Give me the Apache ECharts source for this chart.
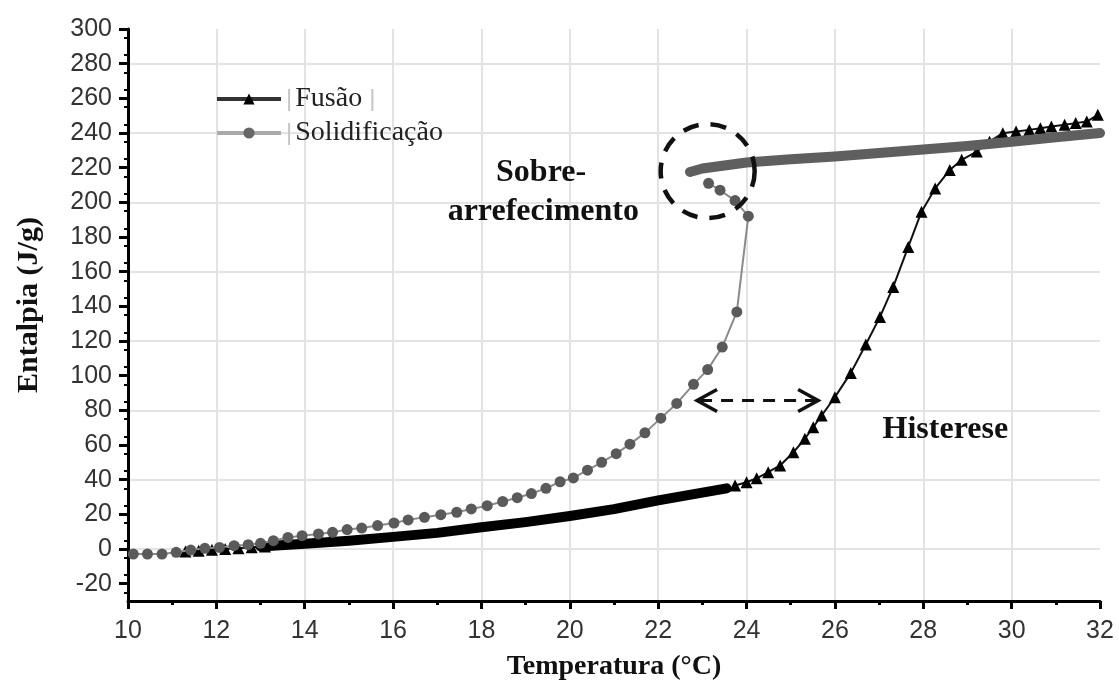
<!DOCTYPE html>
<html><head><meta charset="utf-8">
<script src="https://cdn.jsdelivr.net/npm/echarts@6/dist/echarts.min.js"></script>
<style>html,body{margin:0;padding:0;background:#fff}#c{width:1119px;height:690px}</style>
</head><body><div id="c"></div>
<script>
// ---------------- data ----------------
const xTickLabels = [10, 12, 14, 16, 18, 20, 22, 24, 26, 28, 30, 32];
const yTickLabels = [-20, 0, 20, 40, 60, 80, 100, 120, 140, 160, 180, 200, 220, 240, 260, 280, 300];

// Fusão (melting) – discrete triangles, early part
const fusionEarlyX = [11.3, 11.6, 11.9, 12.2, 12.5, 12.8, 13.1];
const fusionEarlyY = [-1.5, -1, -0.5, 0, 0.5, 1, 1.5];
// Fusão – dense part (drawn as a thick band)
const fusionBandX = [13.0, 14, 15, 16, 17, 18, 19, 20, 21, 22, 23, 23.55];
const fusionBandY = [1.5, 3, 4.8, 7, 9.3, 12.5, 15.5, 19, 23, 28, 32.5, 35];
// Fusão – discrete triangles, melting peak
const fusionX = [23.74, 24.0, 24.23, 24.49, 24.76, 25.06, 25.32, 25.51, 25.70, 26.0, 26.36, 26.70, 27.02, 27.32, 27.66, 27.96, 28.27, 28.6, 28.87, 29.21, 29.5, 29.8, 30.1, 30.4, 30.65, 30.9, 31.2, 31.45, 31.7, 31.95];
const fusionY = [36.6, 38.5, 40.8, 44.3, 48.2, 55.8, 63.6, 70.3, 77, 87.6, 101.6, 118, 133.9, 151.2, 174.3, 194.6, 208, 218.7, 224.5, 229.3, 235, 239.9, 240.8, 241.8, 242.8, 243.7, 244.7, 245.7, 246.6, 250.5];

// Solidificação – liquid cooling part (dense, drawn as a thick band)
const solidLiquidX = [32, 31, 30, 29, 28, 27, 26, 25, 24, 23, 22.72];
const solidLiquidY = [240, 237.5, 235, 232.5, 230.5, 228.5, 226.5, 224.8, 223, 219.5, 217.5];
// Solidificação – supercooling and solidification points
const solidX = [23.14, 23.40, 23.74, 24.04, 23.78, 23.45, 23.12, 22.80, 22.42, 22.06, 21.70, 21.36, 21.05, 20.72, 20.40, 20.08, 19.78, 19.46, 19.13, 18.81, 18.48, 18.13, 17.77, 17.44, 17.08, 16.71, 16.34, 16.02, 15.65, 15.29, 14.96, 14.63, 14.31, 13.94, 13.62, 13.29, 13.0, 12.72, 12.40, 12.07, 11.74, 11.42, 11.09, 10.77, 10.44, 10.12];
const solidY = [211, 207, 201, 192, 136.8, 116.5, 103.5, 95, 84, 75.5, 67, 60.5, 55, 50, 45.5, 41, 38.8, 35, 32, 29.6, 27.4, 25, 23.1, 21.2, 19.8, 18.3, 16.8, 15, 13.5, 12.1, 11.2, 9.6, 8.7, 7.7, 6.7, 4.8, 3.3, 2.5, 1.9, 0.9, 0.4, -0.6, -1.9, -2.9, -2.9, -2.9];

// annotations (data coordinates)
const supercoolCircle = [23.12, 218];
const hysteresisArrow = [[22.88, 85.7], [25.62, 85.7]];
const textSobre = [19.35, 217];
const textArref = [19.4, 194.5];
const textHist = [28.5, 69];

// ---------------- chart ----------------
const zip = (xs, ys) => xs.map((x, i) => [x, ys[i]]);
const chart = echarts.init(document.getElementById('c'));
const serif = '"Liberation Serif", "Times New Roman", serif';
const sans = '"Liberation Sans", Arial, sans-serif';

chart.setOption({
  animation: false,
  backgroundColor: '#fff',
  grid: { left: 128, right: 19, top: 29, bottom: 89, containLabel: false },
  legend: {
    orient: 'vertical', left: 210, top: 80, itemGap: 6,
    itemWidth: 64, itemHeight: 14,
    textStyle: {
      fontFamily: serif, fontSize: 28, color: '#222',
      rich: { sep: { color: '#c4c4c4', fontSize: 24, fontFamily: sans, padding: [0, 3, 0, 0] } }
    },
    formatter: name => '{sep||}' + name + (name === 'Fusão' ? ' {sep||}' : ''),
    data: [
      { name: 'Fusão', lineStyle: { color: '#333', width: 4 }, itemStyle: { color: '#000' } },
      { name: 'Solidificação', lineStyle: { color: '#aaa', width: 4 }, itemStyle: { color: '#666' } }
    ]
  },
  xAxis: {
    type: 'value', min: 10, max: 32, interval: 2,
    name: 'Temperatura (°C)', nameLocation: 'middle', nameGap: 52,
    nameTextStyle: { fontFamily: serif, fontWeight: 'bold', fontSize: 28, color: '#111' },
    axisLine: { onZero: false, lineStyle: { color: '#000', width: 3 } },
    axisTick: { show: true, length: 8, lineStyle: { color: '#000', width: 3 } },
    minorTick: { show: true, splitNumber: 2, length: 4, lineStyle: { color: '#000', width: 3 } },
    axisLabel: { fontFamily: sans, fontSize: 25, color: '#333', margin: 18 },
    splitLine: { show: true, showMinLine: false, showMaxLine: false, lineStyle: { color: '#e3e3e3', width: 2 } }
  },
  yAxis: {
    type: 'value', min: -30, max: 300, interval: 10,
    name: 'Entalpia (J/g)', nameLocation: 'middle', nameGap: 84,
    nameTextStyle: { fontFamily: serif, fontWeight: 'bold', fontSize: 30, color: '#111', padding: [0, 0, 0, 20] },
    axisLine: { onZero: false, lineStyle: { color: '#000', width: 3 } },
    axisTick: { show: true, length: 9, customValues: yTickLabels, lineStyle: { color: '#000', width: 3 } },
    minorTick: { show: true, splitNumber: 2, length: 4, lineStyle: { color: '#000', width: 2 } },
    axisLabel: { fontFamily: sans, fontSize: 25, color: '#333', margin: 16, customValues: yTickLabels },
    splitLine: { show: true, showMaxLine: false, lineStyle: { color: ['rgba(0,0,0,0)', '#e3e3e3'], width: 2 } }
  },
  series: [
    {
      name: 'Fusão', type: 'line', data: zip(fusionX, fusionY),
      symbol: 'triangle', symbolSize: 12, itemStyle: { color: '#000' },
      lineStyle: { color: '#111', width: 2 }, z: 3
    },
    {
      name: 'Fusão', type: 'line', data: zip(fusionEarlyX, fusionEarlyY),
      symbol: 'triangle', symbolSize: 12, itemStyle: { color: '#000' },
      lineStyle: { color: '#111', width: 2 }, z: 3
    },
    {
      name: 'Fusão', type: 'line', data: zip(fusionBandX, fusionBandY),
      symbol: 'none', lineStyle: { color: '#000', width: 10, cap: 'round', join: 'round' }, z: 3
    },
    {
      name: 'Solidificação', type: 'line', data: zip(solidX, solidY),
      symbol: 'circle', symbolSize: 11, itemStyle: { color: '#5a5a5a' },
      lineStyle: { color: '#8a8a8a', width: 2 }, z: 4
    },
    {
      name: 'Solidificação', type: 'line', data: zip(solidLiquidX, solidLiquidY),
      symbol: 'none', lineStyle: { color: '#5f5f5f', width: 10, cap: 'round', join: 'round' }, z: 4
    }
  ]
});

function drawAnnotations() {
  const px = v => chart.convertToPixel({ gridIndex: 0 }, v);
  const c = px(supercoolCircle);
  const a0 = px(hysteresisArrow[0]);
  const a1 = px(hysteresisArrow[1]);
  const tS = px(textSobre), tA = px(textArref), tH = px(textHist);
  const bold = 'bold 32px ' + serif;
  chart.setOption({
    graphic: [
      { type: 'circle', shape: { cx: c[0], cy: c[1], r: 47 }, z: 10,
        style: { fill: 'none', stroke: '#111', lineWidth: 4.5, lineDash: [16, 12] } },
      { type: 'line', shape: { x1: a0[0] + 3, y1: a0[1], x2: a1[0] - 3, y2: a1[1] }, z: 10,
        style: { stroke: '#111', lineWidth: 3, lineDash: [12, 9] } },
      { type: 'polyline', shape: { points: [[a0[0] + 20, a0[1] - 11], [a0[0], a0[1]], [a0[0] + 20, a0[1] + 11]] }, z: 10,
        style: { fill: 'none', stroke: '#111', lineWidth: 3.5 } },
      { type: 'polyline', shape: { points: [[a1[0] - 20, a1[1] - 11], [a1[0], a1[1]], [a1[0] - 20, a1[1] + 11]] }, z: 10,
        style: { fill: 'none', stroke: '#111', lineWidth: 3.5 } },
      { type: 'text', z: 10, style: { text: 'Sobre-', x: tS[0], y: tS[1], font: bold, fill: '#111', align: 'center', verticalAlign: 'middle' } },
      { type: 'text', z: 10, style: { text: 'arrefecimento', x: tA[0], y: tA[1], font: bold, fill: '#111', align: 'center', verticalAlign: 'middle' } },
      { type: 'text', z: 10, style: { text: 'Histerese', x: tH[0], y: tH[1], font: bold, fill: '#111', align: 'center', verticalAlign: 'middle' } }
    ]
  });
}
drawAnnotations();
</script>
</body></html>
